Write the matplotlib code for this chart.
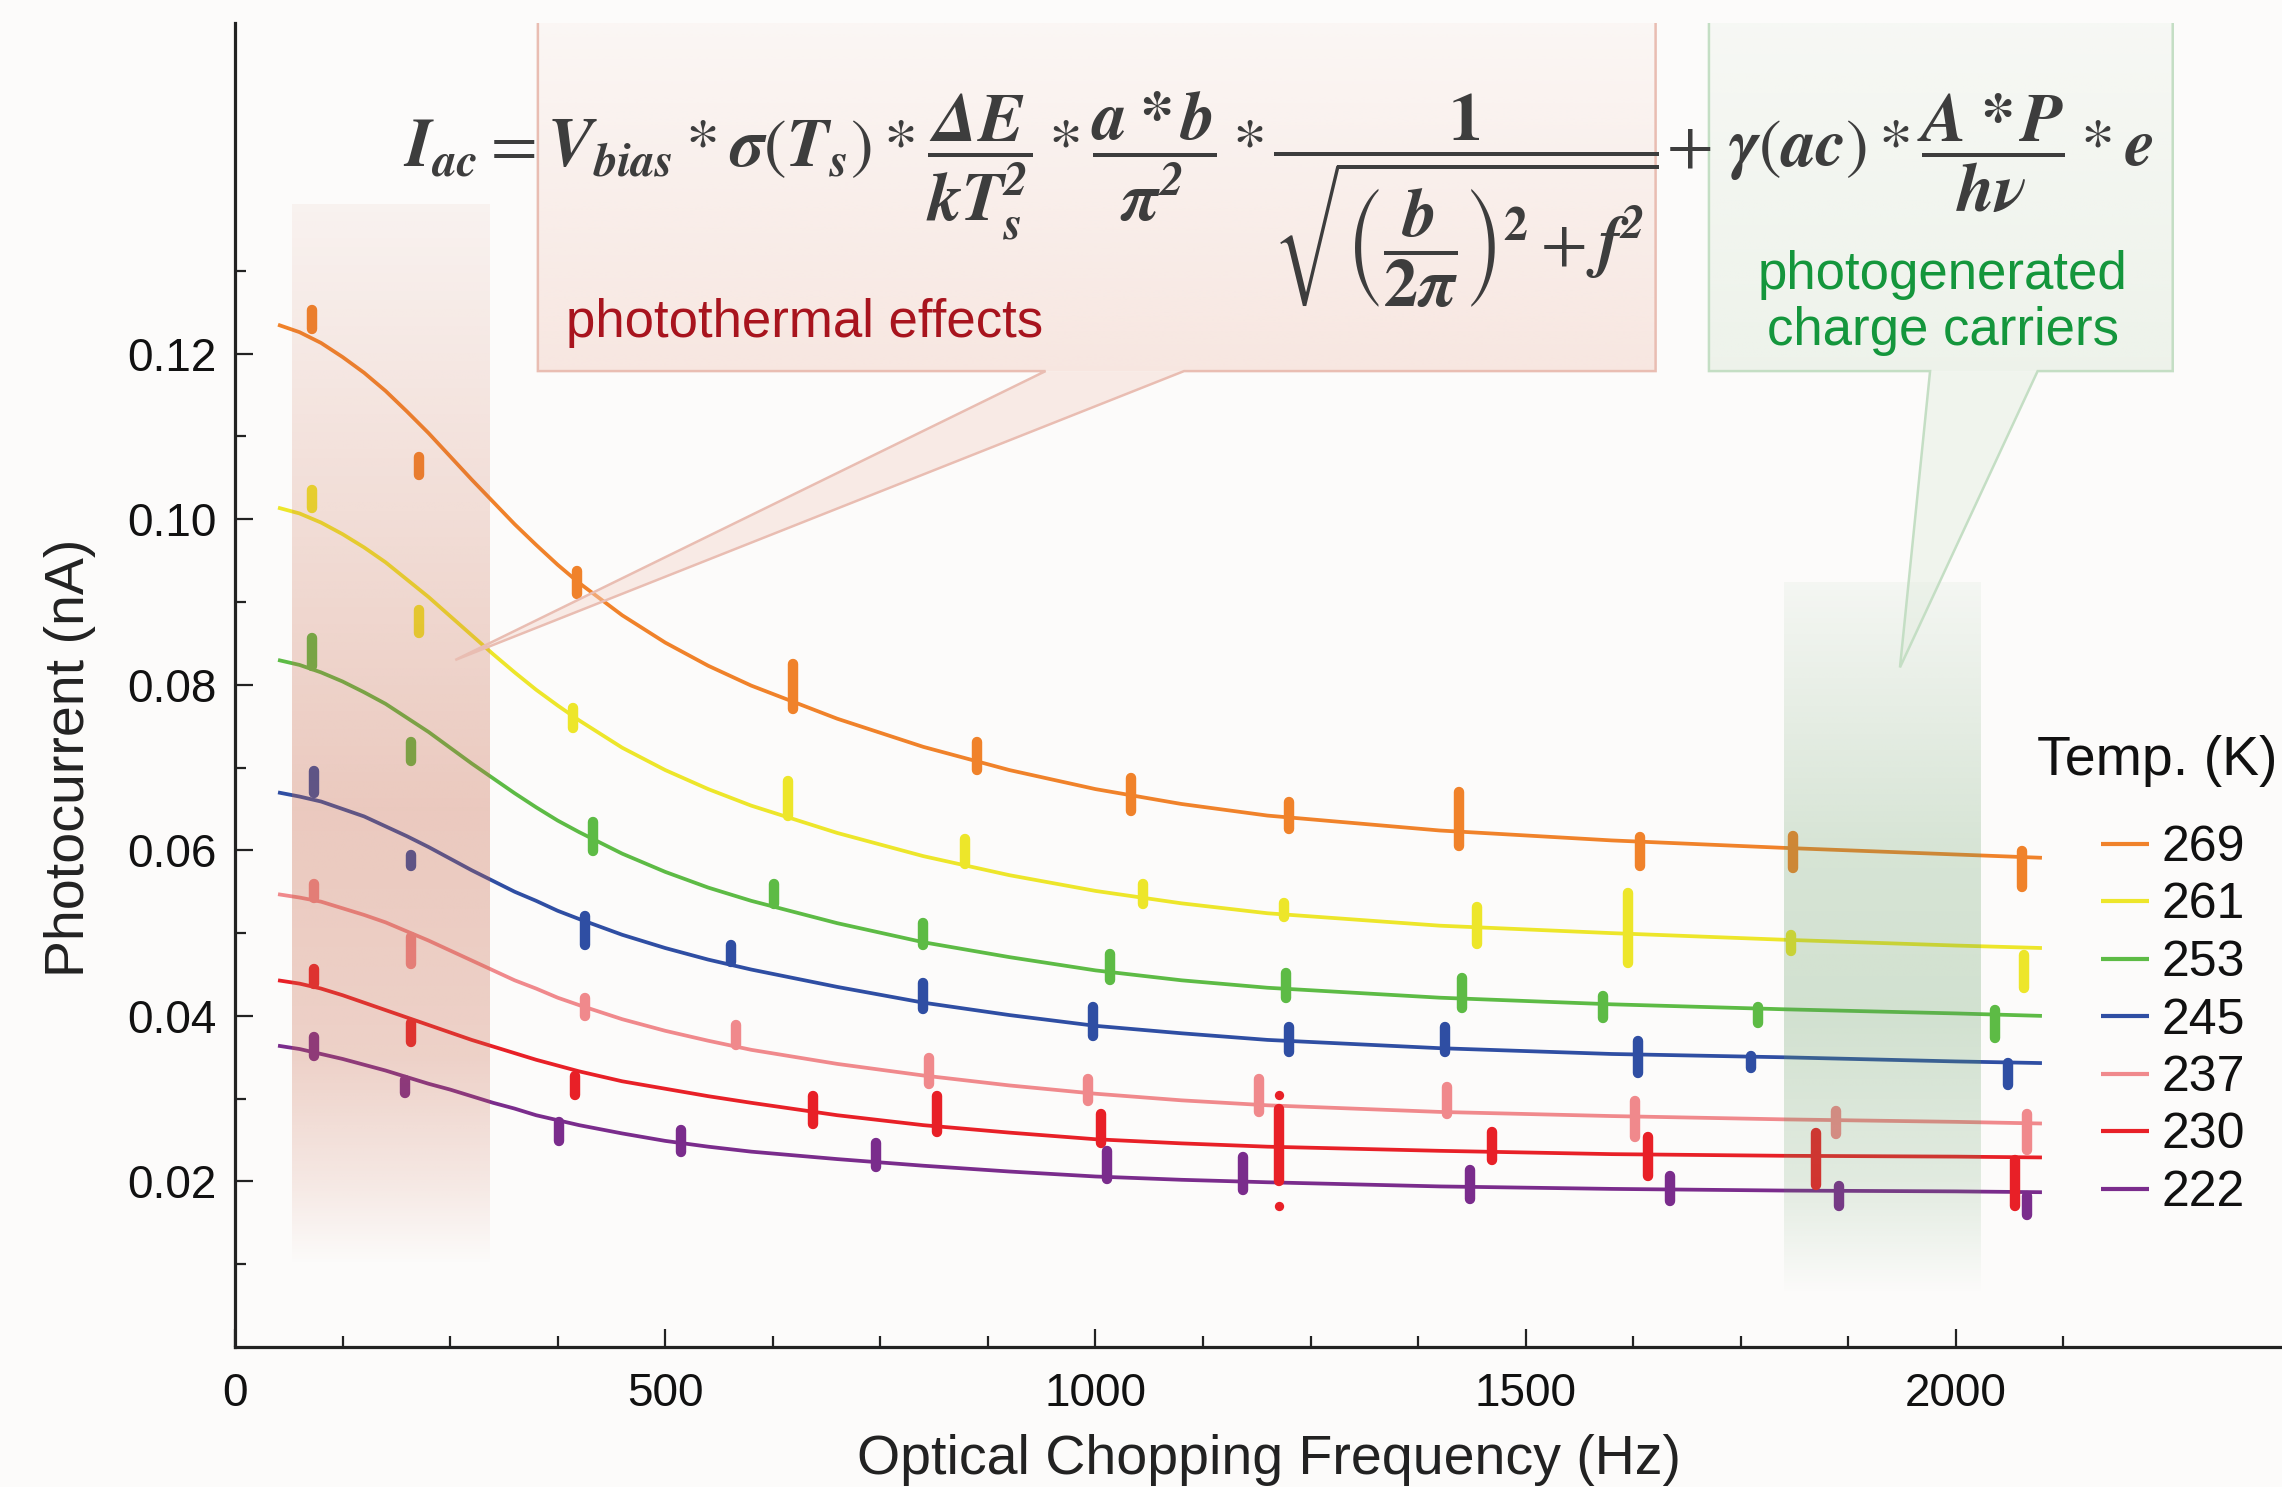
import numpy as np
import matplotlib
matplotlib.use("Agg")
import matplotlib.pyplot as plt
from matplotlib.patches import Polygon
from matplotlib.ticker import FixedLocator

plt.rcParams['font.family'] = ['Liberation Sans', 'DejaVu Sans']
plt.rcParams['mathtext.fontset'] = 'stix'

# ---------------- data ----------------
temps = ["269", "261", "253", "245", "237", "230", "222"]
colors = ["#F0822A", "#EDE62A", "#5DBB45", "#2F4EA3", "#F0898C", "#E82027", "#7A2C8C"]

# fitted curves (Hz, nA)
fit_freq = [50, 75, 100, 125, 150, 175, 200, 225, 250, 275, 300, 325, 350, 375, 400,
            450, 500, 550, 600, 700, 800, 900, 1000, 1100, 1200, 1400, 1600, 1800, 2000, 2100]
fit_269 = [0.1235, 0.1226, 0.1213, 0.1196, 0.1177, 0.1155, 0.1130, 0.1104, 0.1076, 0.1048, 0.1021, 0.0994, 0.0969, 0.0945, 0.0923,
           0.0884, 0.0851, 0.0823, 0.0799, 0.0759, 0.0725, 0.0697, 0.0674, 0.0656, 0.0642, 0.0624, 0.0612, 0.0603, 0.0595, 0.0591]
fit_261 = [0.1014, 0.1007, 0.0996, 0.0982, 0.0966, 0.0948, 0.0927, 0.0906, 0.0883, 0.0860, 0.0837, 0.0815, 0.0794, 0.0775, 0.0757,
           0.0724, 0.0697, 0.0674, 0.0654, 0.0621, 0.0593, 0.0570, 0.0551, 0.0536, 0.0524, 0.0509, 0.0500, 0.0492, 0.0485, 0.0482]
fit_253 = [0.0830, 0.0824, 0.0815, 0.0804, 0.0791, 0.0777, 0.0760, 0.0743, 0.0724, 0.0705, 0.0687, 0.0669, 0.0652, 0.0636, 0.0622,
           0.0596, 0.0574, 0.0555, 0.0539, 0.0512, 0.0489, 0.0471, 0.0455, 0.0443, 0.0434, 0.0422, 0.0414, 0.0408, 0.0403, 0.0400]
fit_245 = [0.0670, 0.0665, 0.0659, 0.0650, 0.0641, 0.0629, 0.0617, 0.0604, 0.0590, 0.0576, 0.0563, 0.0550, 0.0539, 0.0527, 0.0517,
           0.0498, 0.0482, 0.0468, 0.0456, 0.0435, 0.0416, 0.0401, 0.0388, 0.0379, 0.0371, 0.0361, 0.0354, 0.0350, 0.0345, 0.0343]
fit_237 = [0.0547, 0.0543, 0.0538, 0.0530, 0.0522, 0.0513, 0.0502, 0.0491, 0.0479, 0.0467, 0.0455, 0.0443, 0.0433, 0.0422, 0.0413,
           0.0396, 0.0382, 0.0370, 0.0359, 0.0342, 0.0328, 0.0316, 0.0306, 0.0298, 0.0292, 0.0284, 0.0279, 0.0275, 0.0272, 0.0270]
fit_230 = [0.0443, 0.0439, 0.0433, 0.0425, 0.0416, 0.0407, 0.0398, 0.0389, 0.0380, 0.0371, 0.0363, 0.0355, 0.0347, 0.0340, 0.0333,
           0.0321, 0.0312, 0.0303, 0.0295, 0.0280, 0.0268, 0.0259, 0.0251, 0.0246, 0.0242, 0.0237, 0.0233, 0.0231, 0.0230, 0.0229]
fit_222 = [0.0364, 0.0360, 0.0354, 0.0348, 0.0341, 0.0334, 0.0326, 0.0318, 0.0311, 0.0303, 0.0295, 0.0288, 0.0280, 0.0274, 0.0268,
           0.0258, 0.0249, 0.0242, 0.0236, 0.0227, 0.0219, 0.0212, 0.0206, 0.0202, 0.0199, 0.0194, 0.0191, 0.0189, 0.0188, 0.0187]

# measured clusters: frequency, lowest and highest reading (nA)
f_269 = [89, 214, 398, 649, 862, 1041, 1225, 1423, 1633, 1811, 2077]
lo_269 = [0.1226, 0.1049, 0.0906, 0.0767, 0.0693, 0.0643, 0.0622, 0.0601, 0.0577, 0.0575, 0.0552]
hi_269 = [0.1257, 0.1079, 0.0942, 0.0829, 0.0735, 0.0692, 0.0663, 0.0674, 0.0620, 0.0621, 0.0603]

f_261 = [89, 214, 393, 643, 848, 1055, 1219, 1443, 1619, 1808, 2079]
lo_261 = [0.1010, 0.0859, 0.0744, 0.0637, 0.0580, 0.0531, 0.0516, 0.0483, 0.0460, 0.0474, 0.0430]
hi_261 = [0.1039, 0.0894, 0.0776, 0.0688, 0.0618, 0.0563, 0.0540, 0.0536, 0.0552, 0.0502, 0.0478]

f_253 = [89, 205, 416, 626, 800, 1017, 1222, 1426, 1590, 1770, 2045]
lo_253 = [0.0819, 0.0704, 0.0595, 0.0531, 0.0482, 0.0439, 0.0418, 0.0406, 0.0393, 0.0387, 0.0369]
hi_253 = [0.0860, 0.0735, 0.0638, 0.0563, 0.0516, 0.0479, 0.0456, 0.0450, 0.0428, 0.0415, 0.0411]

f_245 = [92, 205, 407, 577, 800, 997, 1225, 1406, 1630, 1762, 2060]
lo_245 = [0.0665, 0.0577, 0.0482, 0.0461, 0.0404, 0.0372, 0.0352, 0.0352, 0.0327, 0.0333, 0.0313]
hi_245 = [0.0700, 0.0598, 0.0525, 0.0490, 0.0444, 0.0415, 0.0390, 0.0391, 0.0374, 0.0355, 0.0347]

f_237 = [92, 205, 407, 582, 807, 991, 1190, 1408, 1627, 1861, 2083]
lo_237 = [0.0539, 0.0459, 0.0396, 0.0361, 0.0314, 0.0293, 0.0280, 0.0277, 0.0250, 0.0253, 0.0234]
hi_237 = [0.0563, 0.0499, 0.0426, 0.0393, 0.0353, 0.0328, 0.0328, 0.0318, 0.0301, 0.0289, 0.0285]

f_230 = [92, 205, 395, 672, 816, 1006, 1213, 1461, 1642, 1837, 2069]
lo_230 = [0.0434, 0.0364, 0.0300, 0.0266, 0.0256, 0.0242, 0.0196, 0.0222, 0.0202, 0.0192, 0.0166]
hi_230 = [0.0461, 0.0396, 0.0331, 0.0307, 0.0307, 0.0285, 0.0291, 0.0264, 0.0258, 0.0263, 0.0230]
out_f_230 = [1213, 1213]
out_y_230 = [0.0304, 0.0170]

f_222 = [92, 197, 377, 518, 745, 1014, 1171, 1435, 1668, 1864, 2083]
lo_222 = [0.0348, 0.0303, 0.0245, 0.0231, 0.0213, 0.0199, 0.0186, 0.0175, 0.0172, 0.0166, 0.0156]
hi_222 = [0.0379, 0.0327, 0.0276, 0.0266, 0.0250, 0.0241, 0.0234, 0.0218, 0.0210, 0.0198, 0.0186]

fits = [fit_269, fit_261, fit_253, fit_245, fit_237, fit_230, fit_222]
freqs = [f_269, f_261, f_253, f_245, f_237, f_230, f_222]
lows = [lo_269, lo_261, lo_253, lo_245, lo_237, lo_230, lo_222]
highs = [hi_269, hi_261, hi_253, hi_245, hi_237, hi_230, hi_222]

x_major = [0, 500, 1000, 1500, 2000]
y_major = [0.02, 0.04, 0.06, 0.08, 0.10, 0.12]
y_labels = ["0.02", "0.04", "0.06", "0.08", "0.10", "0.12"]

# --------------- figure ---------------
W, H = 2282, 1487
fig = plt.figure(figsize=(W / 100, H / 100), dpi=100, facecolor="#FCFBFA")
ax = fig.add_axes([235 / W, 1 - 1347 / H, (W - 235) / W, (1347 - 22.6) / H])
ax.set_facecolor("#FCFBFA")

for s in ["top", "right"]:
    ax.spines[s].set_visible(False)
for s in ["left", "bottom"]:
    ax.spines[s].set_linewidth(2.3)
    ax.spines[s].set_color("#222222")

ax.xaxis.set_major_locator(FixedLocator(x_major))
ax.xaxis.set_minor_locator(FixedLocator([v for v in np.arange(125, 2126, 125) if v % 500 != 0]))
ax.yaxis.set_major_locator(FixedLocator(y_major))
ax.yaxis.set_minor_locator(FixedLocator([0.01, 0.03, 0.05, 0.07, 0.09, 0.11, 0.13]))
ax.set_yticklabels(y_labels)
ax.tick_params(which="both", direction="in", width=1.6, color="#222222", labelsize=33, labelcolor="#111111")
ax.tick_params(which="major", length=13)
ax.tick_params(which="minor", length=8)
ax.tick_params(axis="y", pad=13)
ax.tick_params(axis="x", pad=18)
ax.set_xlabel("Optical Chopping Frequency (Hz)", fontsize=40, color="#222222")
ax.set_ylabel("Photocurrent (nA)", fontsize=40, color="#222222")
ax.xaxis.set_label_coords(0.505, -0.066)
ax.yaxis.set_label_coords(-0.068, 0.445)

# fits and measured clusters
handles = []
for t, c, fy, fq, lo, hi in zip(temps, colors, fits, freqs, lows, highs):
    ln, = ax.plot(fit_freq, fy, color=c, lw=2.7, zorder=3, label=t,
                  solid_capstyle="butt", solid_joinstyle="round")
    handles.append(ln)
    lo_a = np.array(lo) + 0.0004
    hi_a = np.array(hi) - 0.0004
    hi_a = np.maximum(hi_a, lo_a + 0.0001)
    vl = ax.vlines(fq, lo_a, hi_a, colors=c, lw=7.5, zorder=4)
    vl.set_capstyle("round")
ax.scatter(out_f_230, out_y_230, s=45, color=colors[5], zorder=4, lw=0)

# shaded regions (gradients)
def band(x0, x1, y0, y1, rgb, ystops, astops):
    yy = np.linspace(y0, y1, 300)
    a = np.interp(yy, ystops, astops)
    img = np.zeros((300, 2, 4))
    img[..., 0] = rgb[0] / 255
    img[..., 1] = rgb[1] / 255
    img[..., 2] = rgb[2] / 255
    img[..., 3] = a[:, None]
    ax.imshow(img, extent=[x0, x1, y0, y1], origin="lower", aspect="auto",
              interpolation="bilinear", zorder=5)

band(66, 295, 0.0098, 0.138, (200, 100, 70),
     [0.0098, 0.02, 0.035, 0.065, 0.10, 0.138], [0.0, 0.13, 0.28, 0.33, 0.2, 0.06])
band(1800, 2028, 0.0063, 0.0924, (95, 155, 95),
     [0.0063, 0.02, 0.04, 0.06, 0.0924], [0.0, 0.17, 0.27, 0.24, 0.05])

# callout boxes
def callout(x0, x1, y0, y1, b0, b1, tip, face, edge, a_top, a_bot):
    fc = (face[0] / 255, face[1] / 255, face[2] / 255)
    a = np.linspace(a_bot, a_top, 200)
    img = np.zeros((200, 2, 4))
    img[..., 0] = fc[0]
    img[..., 1] = fc[1]
    img[..., 2] = fc[2]
    img[..., 3] = a[:, None]
    ax.imshow(img, extent=[x0, x1, y0, y1], origin="lower", aspect="auto",
              interpolation="bilinear", zorder=6)
    tri = Polygon([(b0, y0), (b1, y0), tip], closed=True,
                  facecolor=fc + (a_bot * 0.8,), edgecolor="none", zorder=6)
    ax.add_patch(tri)
    outline = [(x0, y1), (x0, y0), (b0, y0), tip, (b1, y0), (x1, y0), (x1, y1)]
    xs, ys = zip(*outline)
    ax.plot(xs, ys, color=edge, lw=1.8, zorder=6, solid_joinstyle="miter")

callout(352, 1651, 0.1179, 0.160, 942, 1103, (256, 0.0830),
        (244, 214, 204), "#E9BDB2", 0.12, 0.55)
callout(1713, 2252, 0.1179, 0.160, 1970, 2095, (1935, 0.0821),
        (226, 236, 222), "#C4DEC4", 0.2, 0.55)

ax.set_xlim(0, 2379)
ax.set_ylim(0, 0.16)

# annotation texts
ax.text(662, 0.1237, "photothermal effects", fontsize=38, color="#A8141E",
        ha="center", va="center", zorder=7)
ax.text(1985, 0.1261, "photogenerated\ncharge carriers", fontsize=38, color="#14963C",
        ha="center", va="center", linespacing=1.15, zorder=7)

# equation, drawn in three pieces laid side by side on one baseline
eq_parts = [
    r"$\mathbfit{I_{ac}} = \mathbfit{V_{bias}} * \mathbfit{\sigma}(\mathbfit{T_s}) * "
    r"\dfrac{\mathbfit{\Delta E}}{\mathbfit{kT_s^2}} * \dfrac{\mathbfit{a * b}}{\mathbfit{\pi^2}} *$",
    r"$\dfrac{\mathbf{1}}{\sqrt{\left(\dfrac{\mathbfit{b}}{\mathbf{2}\mathbfit{\pi}}\right)^{\mathbf{2}} + \mathbfit{f^2}}}$",
    r"$+\ \mathbfit{\gamma}(\mathbfit{ac}) * \dfrac{\mathbfit{A * P}}{\mathbfit{h\nu}} * \mathbfit{e}$",
]
gaps = [9, 8]

def draw_equation(parts, x_start):
    renderer = fig.canvas.get_renderer()
    objs = []
    x = x_start
    for i, s in enumerate(parts):
        t = fig.text(x / W, 1 - 167 / H, s, fontsize=49, color="#3D3D3D",
                     ha="left", va="baseline", zorder=10)
        objs.append(t)
        bb = t.get_window_extent(renderer)
        if i < len(gaps):
            x = bb.x1 + gaps[i]
    return objs

try:
    draw_equation(eq_parts, 403)
except Exception:
    for t in list(fig.texts):
        t.remove()
    draw_equation([p.replace(r"\mathbfit", r"\mathbf") for p in eq_parts], 403)

fig.text(2157 / W, 1 - 761 / H, "Temp. (K)", fontsize=40, color="#111111",
         ha="center", va="center")
leg = ax.legend(handles=handles, loc="upper left",
                bbox_to_anchor=(2101 / W, 1 - 825 / H), bbox_transform=fig.transFigure,
                frameon=False, fontsize=36, handlelength=0.95,
                handletextpad=0.25, labelspacing=0.23, borderpad=0, borderaxespad=0)
for l in leg.get_lines():
    l.set_linewidth(3)
for t in leg.get_texts():
    t.set_color("#111111")
leg.set_zorder(10)

fig.savefig("out.png", dpi=100, facecolor=fig.get_facecolor())
